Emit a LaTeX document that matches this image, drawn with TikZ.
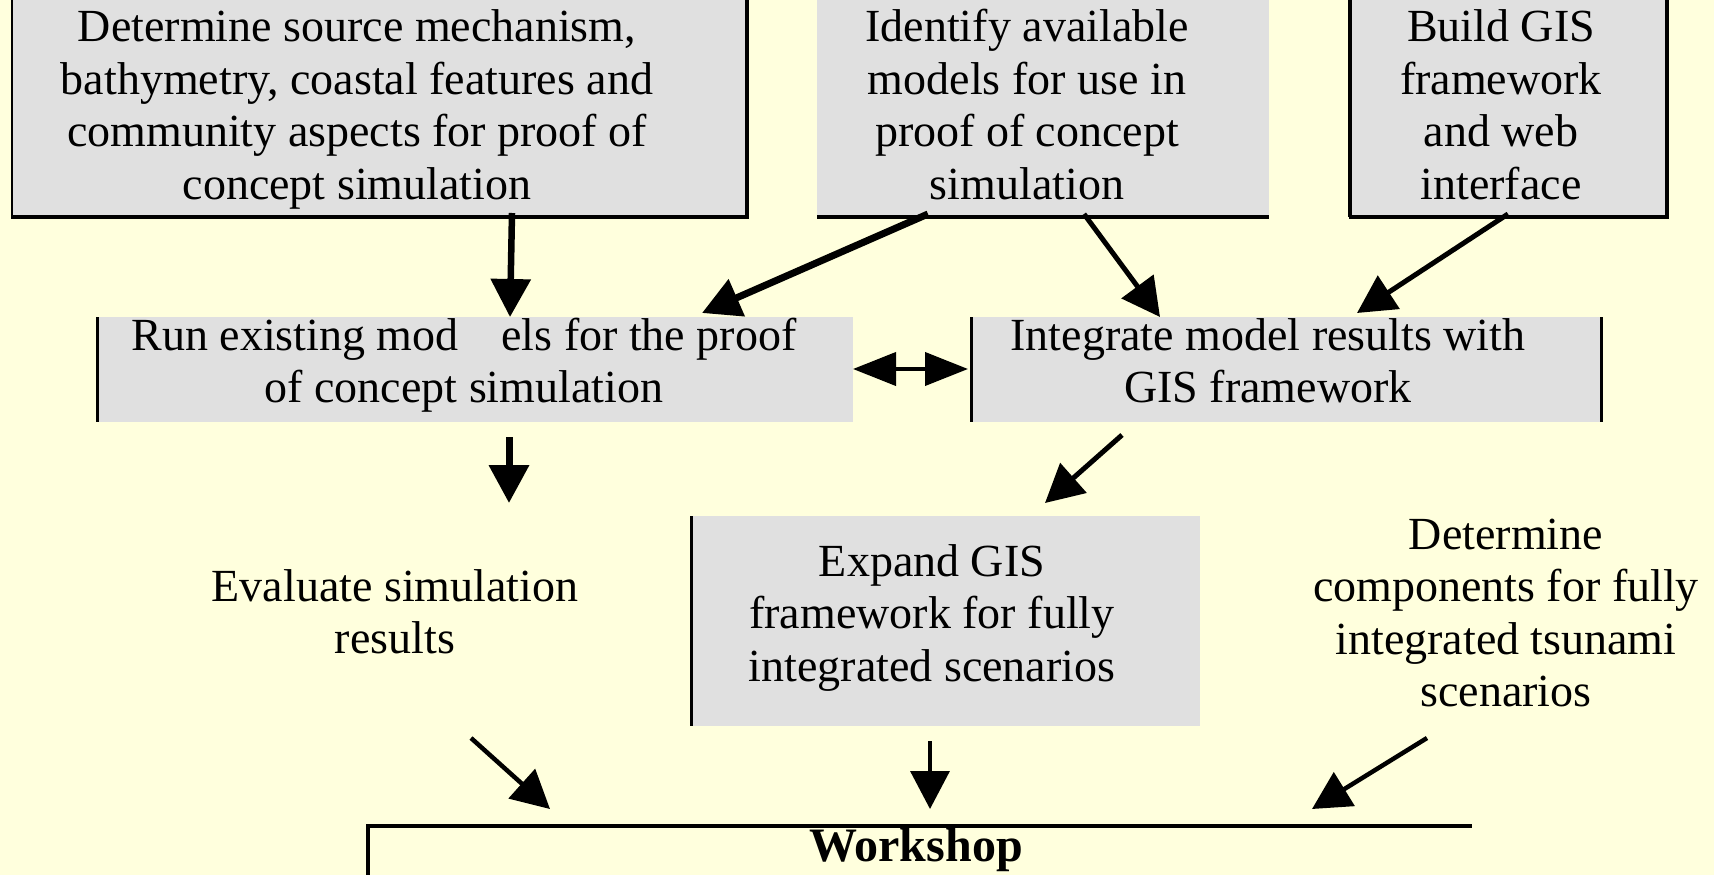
\documentclass[tikz,border=0pt]{standalone}
\usepackage{fontspec}
\setmainfont{Liberation Serif}
\usetikzlibrary{arrows.meta}
\definecolor{bgyellow}{RGB}{255,255,221}
\definecolor{boxgray}{RGB}{224,224,224}
\tikzset{
  txt/.style={align=center,inner sep=0pt,anchor=base,font=\fontsize{46}{52.5}\selectfont},
  bigarrow/.style={-{Triangle[length=38pt,width=39pt]}},
  dblarrow/.style={{Triangle[length=43pt,width=33pt]}-{Triangle[length=43pt,width=33pt]},line width=4pt},
  gfill/.style={fill=boxgray}
}
\begin{document}
\begin{tikzpicture}[x=1pt,y=-1pt]
\useasboundingbox (0,0) rectangle (1714,875);
\fill[bgyellow] (0,0) rectangle (1714,875);
\begin{scope}
\clip (0,0) rectangle (1714,875);
% box fills
\fill[gfill] (11,-5) rectangle (748,217);
\fill[gfill] (817,-5) rectangle (1269,217);
\fill[gfill] (1350,-5) rectangle (1669,217);
\fill[gfill] (96,317) rectangle (853,422);
\fill[gfill] (971,317) rectangle (1602,422);
\fill[gfill] (690,516) rectangle (1200,726);
% box borders
\draw[line width=2.5pt] (12,-5) -- (12,217);
\draw[line width=4pt] (746.5,-5) -- (746.5,219);
\draw[line width=4.5pt] (11,217) -- (748.5,217);
\draw[line width=4.5pt] (817,217) -- (1269,217);
\draw[line width=3.3pt] (1350,-5) -- (1350,217);
\draw[line width=4pt] (1667,-5) -- (1667,219);
\draw[line width=4.5pt] (1348.5,217) -- (1669,217);
\draw[line width=3pt] (97.5,317) -- (97.5,422);
\draw[line width=3.5pt] (971.5,317) -- (971.5,422);
\draw[line width=3pt] (1601,317) -- (1601,422);
\draw[line width=3.5pt] (691.5,516) -- (691.5,726);
\draw[line width=4pt] (366,826) -- (1472,826);
\draw[line width=3.5pt] (368,824) -- (368,880);
\end{scope}
% texts (anchored at the baseline of the last line)
\node[txt] (b1) at (357,199) {Determine source mechanism,\\bathymetry, coastal features and\\community aspects for proof of\\concept simulation};
\node[txt] (b2) at (1027,199) {Identify available\\models for use in\\proof of concept\\simulation};
\node[txt] (b3) at (1501,199) {Build GIS\\framework\\and web\\interface};
\node[txt] (b4) at (464,402.5) {Run existing mod\hspace{0.93em}els for the proof\\of concept simulation};
\node[txt] (b5) at (1268,402.5) {Integrate model results with\\GIS framework};
\node[txt] (b6) at (932,681) {Expand GIS\\framework for fully\\integrated scenarios};
\node[txt] (ev) at (395,653.5) {Evaluate simulation\\results};
\node[txt] (dc) at (1506,706.5) {Determine\\components for fully\\integrated tsunami\\scenarios};
\node[txt,font=\fontsize{48}{52.5}\selectfont\bfseries] (ws) at (916,861) {Workshop};
% connector end points
\coordinate (a1s) at (512,213); \coordinate (a1e) at (510,317);
\coordinate (a2s) at (928,214); \coordinate (a2e) at (702,313);
\coordinate (a3s) at (1084,214); \coordinate (a3e) at (1160,317);
\coordinate (a4s) at (1508,214); \coordinate (a4e) at (1357,313);
\coordinate (a5s) at (853,369); \coordinate (a5e) at (968,369);
\coordinate (a6s) at (509,437); \coordinate (a6e) at (509,503);
\coordinate (a7s) at (1122,435); \coordinate (a7e) at (1045,503);
\coordinate (a8s) at (471,738); \coordinate (a8e) at (550,809);
\coordinate (a9s) at (930,741); \coordinate (a9e) at (930,809);
\coordinate (a10s) at (1427,738); \coordinate (a10e) at (1312,809);
% connectors
\draw[bigarrow,line width=6.5pt] (a1s) -- (a1e);
\draw[bigarrow,line width=7pt] (a2s) -- (a2e);
\draw[bigarrow,line width=5pt] (a3s) -- (a3e);
\draw[bigarrow,line width=5pt] (a4s) -- (a4e);
\draw[dblarrow] (a5s) -- (a5e);
\draw[bigarrow,line width=7pt] (a6s) -- (a6e);
\draw[bigarrow,line width=5pt] (a7s) -- (a7e);
\draw[bigarrow,line width=4.5pt] (a8s) -- (a8e);
\draw[bigarrow,line width=3.5pt] (a9s) -- (a9e);
\draw[bigarrow,line width=4.5pt] (a10s) -- (a10e);
\end{tikzpicture}
\end{document}
